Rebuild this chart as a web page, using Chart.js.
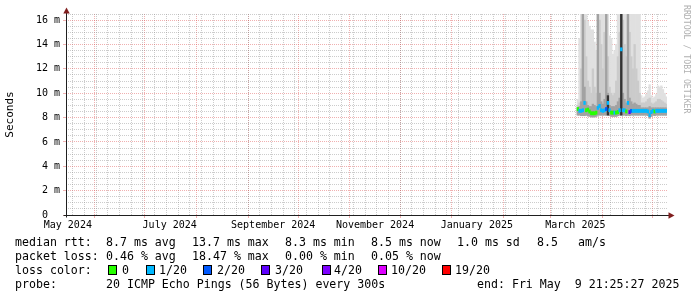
<!DOCTYPE html>
<html>
<head>
<meta charset="utf-8">
<script src="https://cdn.jsdelivr.net/npm/chart.js@4/dist/chart.umd.min.js"></script>
<style>
html,body{margin:0;padding:0;background:#fff;overflow:hidden;}
#wrap{position:relative;width:697px;height:297px;overflow:hidden;background:#fff;}
#c{position:absolute;left:0;top:0;}
.t{position:absolute;font-family:"DejaVu Sans Mono",monospace;font-size:11.6px;line-height:14px;white-space:pre;color:#000;}
.box{position:absolute;width:9px;height:10px;box-sizing:border-box;border:1px solid #000;}
#rrd{position:absolute;left:682px;top:5px;writing-mode:vertical-rl;font-family:"DejaVu Sans Mono",monospace;font-size:8.2px;line-height:10px;color:#b0b0b0;white-space:pre;}
</style>
</head>
<body>
<div id="wrap">
<canvas id="c" width="697" height="297" style="width:697px;height:297px"></canvas>
<div id="rrd">RRDTOOL / TOBI OETIKER</div>

<div class="t" style="left:15px;top:235px">median rtt:</div>
<div class="t" style="left:106px;top:235px">8.7 ms avg</div>
<div class="t" style="left:192px;top:235px">13.7 ms max</div>
<div class="t" style="left:285px;top:235px">8.3 ms min</div>
<div class="t" style="left:371px;top:235px">8.5 ms now</div>
<div class="t" style="left:457px;top:235px">1.0 ms sd</div>
<div class="t" style="left:537px;top:235px">8.5</div>
<div class="t" style="left:578px;top:235px">am/s</div>

<div class="t" style="left:15px;top:248.8px">packet loss:</div>
<div class="t" style="left:106px;top:248.8px">0.46 % avg</div>
<div class="t" style="left:192px;top:248.8px">18.47 % max</div>
<div class="t" style="left:285px;top:248.8px">0.00 % min</div>
<div class="t" style="left:371px;top:248.8px">0.05 % now</div>

<div class="t" style="left:15px;top:262.8px">loss color:</div>
<div id="lossLegend"></div>

<div class="t" style="left:15px;top:276.6px">probe:</div>
<div class="t" style="left:106px;top:276.6px">20 ICMP Echo Pings (56 Bytes) every 300s</div>
<div class="t" style="left:477px;top:276.6px">end: Fri May  9 21:25:27 2025</div>
</div>

<script>
// ---------- data ----------
const dates = [
 "2025-03-17","2025-03-18","2025-03-19","2025-03-20","2025-03-21","2025-03-22","2025-03-23","2025-03-24",
 "2025-03-25","2025-03-26","2025-03-27","2025-03-28","2025-03-29","2025-03-30","2025-03-31",
 "2025-04-01","2025-04-02","2025-04-03","2025-04-04","2025-04-05","2025-04-06","2025-04-07","2025-04-08",
 "2025-04-09","2025-04-10","2025-04-11","2025-04-12","2025-04-13","2025-04-14","2025-04-15","2025-04-16",
 "2025-04-17","2025-04-18","2025-04-19","2025-04-20","2025-04-21","2025-04-22","2025-04-23","2025-04-24",
 "2025-04-25","2025-04-26","2025-04-27","2025-04-28","2025-04-29","2025-04-30",
 "2025-05-01","2025-05-02","2025-05-03","2025-05-04","2025-05-05","2025-05-06","2025-05-07","2025-05-08","2025-05-09"
];
// median rtt (ms)
const median = [8.7,8.55,8.55,8.6,9.2,8.6,8.65,8.5,8.35,8.35,8.35,8.4,8.8,8.95,8.6,
 8.55,8.6,8.7,9.2,8.6,8.4,8.4,8.4,8.4,8.45,8.6,13.6,8.6,8.6,8.5,9.2,
 8.45,8.55,8.55,8.55,8.55,8.55,8.55,8.55,8.55,8.55,8.55,8.5,8.2,8.45,
 8.55,8.5,8.55,8.55,8.55,8.55,8.55,8.55,8.55];
// lost pings (of 20)
const loss = [0,1,1,1,1,0,0,0,0,0,0,0,1,1,1,
 1,1,2,1,1,0,0,1,0,0,1,1,1,1,0,1,
 3,2,1,1,1,1,1,1,1,1,1,1,1,1,
 1,0,1,1,1,1,1,1,1];
// smoke: lower edge and tops of the smoke shades (ms)
const smokeLow = [8.2,8.2,8.15,8.15,8.15,8.2,8.15,8.1,8.05,8.05,8.05,8.1,8.2,8.2,8.2,
 8.2,8.2,8.2,8.2,8.15,8.1,8.1,8.1,8.1,8.15,8.2,8.2,8.2,8.2,8.15,8.2,
 8.15,8.2,8.2,8.2,8.2,8.2,8.2,8.2,8.2,8.2,8.2,8.15,7.95,8.1,
 8.2,8.15,8.2,8.2,8.2,8.2,8.2,8.2,8.2];
const lightTop = [9.5,14.5,17,17,17,17,15.9,15.5,15.2,15.2,14.2,13.5,17,17,17,
 17,17,17,17,14.7,14.5,13.2,13.5,14.0,17,17,17,17,17,17,17,
 17,17,17,17,17,17,17,9.8,9.6,9.7,9.9,10.2,10.7,9.8,
 9.6,9.7,9.9,10.6,10.5,10.6,10.3,10.0,9.7];
const midTop = [9.0,9.2,12,17,16,13,11,10.5,10,12,10.5,10,17,16,14,
 12,15,17,13,10.5,10,9.8,10,11,13,15,17,16,14,13,17,
 15,13,12,14,12,11,10,9.2,9.2,9.2,9.3,9.5,9.6,9.2,
 9.1,9.2,9.3,9.5,9.5,9.4,9.3,9.2,9.1];
const darkTop = [8.8,8.9,9.3,17,10.5,9.3,9.0,8.9,8.9,9.1,9.0,8.9,17,10,9.3,
 9.1,9.5,17,10,9.0,8.9,8.9,8.9,9.0,9.3,9.6,17,10,9.5,9.2,17,
 9.6,9.3,9.1,9.2,9.1,9.0,9.0,8.8,8.8,8.8,8.8,8.8,8.9,8.8,
 8.8,8.8,8.8,8.8,8.8,8.8,8.8,8.8,8.8];
const blackTop = [null,null,null,null,null,null,null,null,null,null,null,null,null,null,null,
 null,null,null,9.8,null,null,null,null,null,null,null,17,null,null,null,null,
 null,null,null,null,null,null,null,null,null,null,null,null,null,null,
 null,null,null,null,null,null,null,null,null];

// loss colour legend
const lossLabels = ["0","1/20","2/20","3/20","4/20","10/20","19/20"];
const lossThresholds = [0,1,2,3,4,10,19];
const lossColors = ["#26ff00","#00b8ff","#0059ff","#5e00ff","#7e00ff","#dd00ff","#ff0000"];

// axis tick labels
const xLabelTexts = ["May 2024","July 2024","September 2024","November 2024","January 2025","March 2025"];
const xLabelMonths = [[2024,4],[2024,6],[2024,8],[2024,10],[2025,0],[2025,2]];
const yMajorValues = [0,2,4,6,8,10,12,14,16];
const yTickLabels = ["0  ","2 m","4 m","6 m","8 m","10 m","12 m","14 m","16 m"];

// ---------- time axis helpers ----------
const DAY = 864e5;
const START_MS = Date.UTC(2024,4,14,21,25);
const END_MS = Date.UTC(2025,4,9,21,25);
const toDay = ms => (ms - START_MS) / DAY;
const RANGE = toDay(END_MS);
const xs = dates.map(d => toDay(Date.parse(d + "T12:00:00Z")));

function band(lo, hi){
  const out = [];
  xs.forEach((x,i)=>{ if(hi[i]!=null) out.push({x:x, y:[lo[i], hi[i]]}); });
  return out;
}
function lossColor(l){
  let c = lossColors[0];
  for(let k=0;k<lossThresholds.length;k++){ if(l>=lossThresholds[k]) c = lossColors[k]; }
  return c;
}
const MED_HALF = 0.13; // half thickness of the median mark (ms)
const medianData = xs.map((x,i)=>({x:x, y:[median[i]-MED_HALF, median[i]+MED_HALF]}));
const medianColors = loss.map(lossColor);

// x ticks: month starts (major), Sundays (minor), month labels (centered in month)
const xTicks = [];
for(let y=2024,m=5; y<2025 || (y===2025 && m<=4); m++){
  if(m>11){m=0;y++;}
  xTicks.push({value:toDay(Date.UTC(y,m,1)), kind:'major', text:''});
}
for(let t=Date.UTC(2024,4,19); t<END_MS; t+=7*DAY){
  xTicks.push({value:toDay(t), kind:'minor', text:''});
}
xLabelMonths.forEach((ym,i)=>{
  xTicks.push({value:toDay(Date.UTC(ym[0],ym[1],1)+15*DAY), kind:'label', text:xLabelTexts[i]});
});
xTicks.sort((a,b)=>a.value-b.value);

const yTicks = [];
for(let v=0; v<=16.5001; v+=0.5){
  const idx = yMajorValues.indexOf(Math.round(v*2)/2);
  yTicks.push({value:v, kind: idx>=0 ? 'major':'minor', text: idx>=0 ? yTickLabels[idx] : ''});
}

const MAJOR = 'rgba(222,79,79,0.45)';
const MINOR = 'rgba(143,143,143,0.45)';
const gridColor = c => { const k = c.tick && c.tick.kind; return k==='major'?MAJOR:(k==='minor'?MINOR:'rgba(0,0,0,0)'); };
const tickColor = c => { const k = c.tick && c.tick.kind; return k==='major'?MAJOR:'rgba(0,0,0,0)'; };

// legend for loss colours
(function(){
  const boxX = [108,146,203,261,322,378,442];
  const txtX = [122,159,217,275,334,391,455];
  const host = document.getElementById('lossLegend');
  lossLabels.forEach((lab,i)=>{
    const b = document.createElement('div');
    b.className='box'; b.style.left=boxX[i]+'px'; b.style.top='264.5px'; b.style.background=lossColors[i];
    host.appendChild(b);
    const t = document.createElement('div');
    t.className='t'; t.style.left=txtX[i]+'px'; t.style.top='262.8px'; t.textContent=lab;
    host.appendChild(t);
  });
})();

const axesPlugin = {
  id:'rrdAxes',
  afterDraw(chart){
    const {ctx, chartArea:a} = chart;
    const xb = Math.round(a.left)+0.5, yb = Math.round(a.bottom)+0.5;
    ctx.save();
    ctx.strokeStyle='rgb(31,31,31)'; ctx.lineWidth=1; ctx.setLineDash([]);
    ctx.beginPath();
    ctx.moveTo(xb-3, yb); ctx.lineTo(a.right+3, yb);
    ctx.moveTo(xb, yb+2); ctx.lineTo(xb, a.top-2);
    ctx.stroke();
    ctx.fillStyle='rgb(128,31,31)';
    ctx.beginPath();
    ctx.moveTo(xb, a.top-6.5); ctx.lineTo(xb-3.2, a.top-0.5); ctx.lineTo(xb+3.2, a.top-0.5); ctx.closePath(); ctx.fill();
    ctx.beginPath();
    ctx.moveTo(a.right+7.5, yb); ctx.lineTo(a.right+1.5, yb-3.2); ctx.lineTo(a.right+1.5, yb+3.2); ctx.closePath(); ctx.fill();
    ctx.restore();
  }
};

const tickFont = {family:'"DejaVu Sans Mono", monospace', size:10};

new Chart(document.getElementById('c'), {
  type:'bar',
  data:{ datasets:[
    {label:'median', data:medianData, backgroundColor:medianColors, order:0},
    {label:'smoke 4', data:band(smokeLow, blackTop), backgroundColor:'#333333', order:1},
    {label:'smoke 3', data:band(smokeLow, darkTop), backgroundColor:'#a2a2a2', order:2},
    {label:'smoke 2', data:band(smokeLow, midTop), backgroundColor:'#cbcbcb', order:3},
    {label:'smoke 1', data:band(smokeLow, lightTop), backgroundColor:'#e0e0e0', order:4}
  ]},
  options:{
    responsive:false, animation:false, devicePixelRatio:1, events:[],
    layout:{padding:{left:0,right:30,top:14,bottom:62}},
    datasets:{bar:{grouped:false, barPercentage:1, categoryPercentage:1, borderWidth:0}},
    plugins:{legend:{display:false}, tooltip:{enabled:false}},
    scales:{
      x:{
        type:'linear', min:0, max:RANGE, offset:false, z:1,
        grid:{offset:false, color:gridColor, lineWidth:1, drawTicks:true, tickLength:3, tickColor:tickColor},
        border:{display:false, dash:[1,1]},
        ticks:{autoSkip:false, maxRotation:0, minRotation:0, padding:1, font:tickFont, color:'#000',
               callback:(v,i,t)=> (t[i] && t[i].text) || ''},
        afterBuildTicks:s=>{ s.ticks = xTicks.map(t=>({value:t.value, kind:t.kind, text:t.text})); },
        afterFit:s=>{ s.height = 20; }
      },
      y:{
        type:'linear', min:0, max:16.5, z:1,
        grid:{color:gridColor, lineWidth:1, drawTicks:true, tickLength:3, tickColor:tickColor},
        border:{display:false, dash:[1,1]},
        ticks:{autoSkip:false, padding:3, font:tickFont, color:'#000',
               callback:(v,i,t)=> (t[i] && t[i].text) || ''},
        title:{display:true, text:'Seconds', color:'#000', font:{family:'"DejaVu Sans Mono", monospace', size:11}, padding:{top:3.5,bottom:0}},
        afterBuildTicks:s=>{ s.ticks = yTicks.map(t=>({value:t.value, kind:t.kind, text:t.text})); },
        afterFit:s=>{ s.height; s.width = 66; }
      }
    }
  },
  plugins:[axesPlugin]
});
</script>
</body>
</html>
